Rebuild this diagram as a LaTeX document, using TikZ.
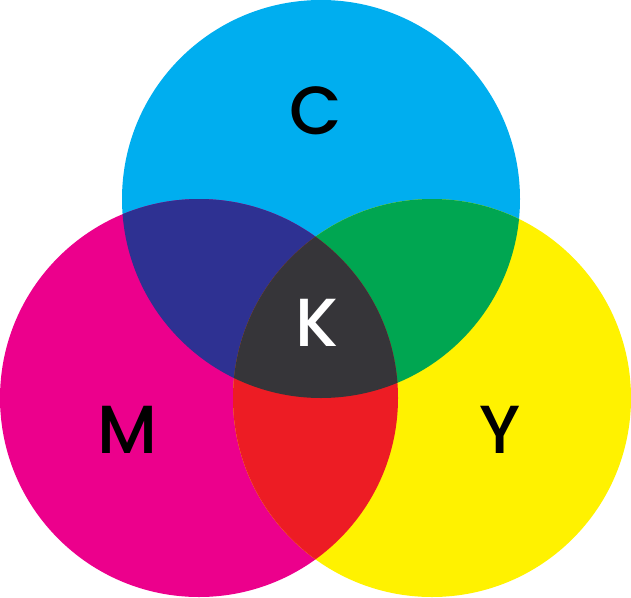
\documentclass[tikz,border=0pt]{standalone}
\usepackage{fontspec}
\newfontfamily\popfont{Poppins Medium}
\definecolor{cC}{HTML}{00AEEF}
\definecolor{cM}{HTML}{EC008C}
\definecolor{cY}{HTML}{FFF200}
\definecolor{cB}{HTML}{2E3192}
\definecolor{cG}{HTML}{00A651}
\definecolor{cR}{HTML}{ED1C24}
\definecolor{cK}{HTML}{363539}
\begin{document}
\begin{tikzpicture}[x=1pt,y=-1pt,
  lbl/.style={font=\popfont\fontsize{68}{68}\selectfont, inner sep=0pt, anchor=center}]
\useasboundingbox (0,0) rectangle (631,597);
\def\rr{199}
\coordinate (Cc) at (321,199);
\coordinate (Mc) at (199,398);
\coordinate (Yc) at (432,398);
\fill[cC] (Cc) circle[radius=\rr];
\fill[cM] (Mc) circle[radius=\rr];
\fill[cY] (Yc) circle[radius=\rr];
\begin{scope}
  \clip (Cc) circle[radius=\rr];
  \fill[cB] (Mc) circle[radius=\rr];
\end{scope}
\begin{scope}
  \clip (Cc) circle[radius=\rr];
  \fill[cG] (Yc) circle[radius=\rr];
\end{scope}
\begin{scope}
  \clip (Mc) circle[radius=\rr];
  \fill[cR] (Yc) circle[radius=\rr];
\end{scope}
\begin{scope}
  \clip (Cc) circle[radius=\rr];
  \clip (Mc) circle[radius=\rr];
  \fill[cK] (Yc) circle[radius=\rr];
\end{scope}
\node[lbl, text=black] (C) at (316,111) {C};
\node[lbl, text=white] (K) at (317,323) {K};
\node[lbl, text=black] (M) at (127,430) {M};
\node[lbl, text=black] (Y) at (500,430) {Y};
\end{tikzpicture}
\end{document}
